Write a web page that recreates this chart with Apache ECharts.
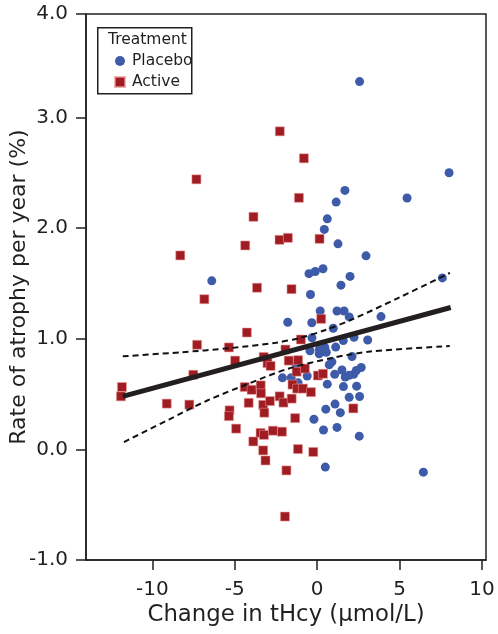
<!DOCTYPE html>
<html>
<head>
<meta charset="utf-8">
<script src="https://cdn.jsdelivr.net/npm/echarts@6/dist/echarts.min.js"></script>
<style>
html,body{margin:0;padding:0;background:#fff;}
#chart{width:498px;height:634px;}
</style>
</head>
<body>
<div id="chart"></div>
<script>
// ---- data ----
const placeboX = [2.57, 8.00, 1.68, 1.15, 5.45, 0.61, 0.43, 1.26, 2.96, -0.50, -0.12, 0.35, 1.99, 1.44, 7.59, -6.40,
  -0.41, 0.18, 1.20, 1.63, 1.94, 3.87, -1.79, -0.33, 0.97, -0.32, 1.58, 2.23, 3.06, -0.44, 0.13, 0.46, 1.12, 0.12,
  0.55, 2.11, 0.89, 0.73, -1.32, 1.50, 2.67, 2.37, 2.21, 1.06, -0.61, -2.11, -1.58, -1.16, 0.61, 1.70, 1.93, 1.59,
  2.39, 1.94, 2.57, 1.08, 0.52, 1.40, -0.20, 0.38, 1.20, 2.55, 0.49, 6.44];
const placeboY = [3.326, 2.502, 2.342, 2.236, 2.273, 2.085, 1.989, 1.859, 1.750, 1.589, 1.609, 1.634, 1.564, 1.485, 1.551, 1.524,
  1.401, 1.252, 1.252, 1.252, 1.198, 1.201, 1.150, 1.145, 1.096, 1.009, 0.984, 1.014, 0.989, 0.892, 0.903, 0.923, 0.925, 0.865,
  0.878, 0.840, 0.792, 0.765, 0.781, 0.718, 0.741, 0.713, 0.679, 0.679, 0.664, 0.647, 0.649, 0.602, 0.590, 0.655, 0.670, 0.568,
  0.572, 0.471, 0.478, 0.410, 0.364, 0.332, 0.273, 0.175, 0.199, 0.120, -0.160, -0.206];

const activeX = [-2.27, -0.81, -7.33, -1.11, -3.87, -4.37, -2.29, -1.78, -8.31, -3.65, -1.56, 0.14, -6.85, 0.24, -4.27, -7.29,
  -5.36, -0.99, -4.98, -3.25, -1.93, -1.73, -1.16, -3.02, -2.83, -7.52, -1.25, -0.75, 0.04, 0.35, -11.85, -11.91, -9.13, -7.76,
  -4.40, -3.98, -3.43, -3.41, -4.16, -3.28, -2.87, -3.21, -5.32, -5.36, -4.92, -3.44, -3.23, -2.69, -2.14, -3.88, -3.28, -3.14,
  -2.28, -2.05, -1.55, -1.50, -1.22, -0.87, -0.38, -1.34, 2.19, -1.17, -0.24, -1.87, -1.96];
const activeY = [2.876, 2.632, 2.442, 2.275, 2.103, 1.844, 1.895, 1.913, 1.754, 1.462, 1.449, 1.904, 1.358, 1.180, 1.057, 0.946,
  0.922, 0.994, 0.803, 0.836, 0.903, 0.803, 0.807, 0.780, 0.755, 0.675, 0.703, 0.731, 0.668, 0.684, 0.564, 0.480, 0.414, 0.405,
  0.564, 0.539, 0.579, 0.507, 0.421, 0.403, 0.437, 0.332, 0.353, 0.301, 0.188, 0.149, 0.131, 0.169, 0.160, 0.072, -0.009, -0.100,
  0.480, 0.423, 0.459, 0.586, 0.550, 0.550, 0.518, 0.283, 0.371, 0.003, -0.023, -0.190, -0.607];

const fitX = [-11.8, 8.1];
const fitY = [0.48, 1.283];
const upperX = [-11.8, -8.3, -5.36, -2.5, -1, 0.5, 2.19, 5, 8.05];
const upperY = [0.842, 0.878, 0.915, 0.965, 1.01, 1.08, 1.18, 1.375, 1.596];
const lowerX = [-11.73, -9, -6.7, -4.07, -1.76, 1, 3.22, 8.04];
const lowerY = [0.066, 0.27, 0.44, 0.60, 0.73, 0.83, 0.885, 0.935];

const xTickValues = [-10, -5, 0, 5, 10];
const yTickValues = [-1, 0, 1, 2, 3, 3.937];
const yTickLabels = ['-1.0', '0.0', '1.0', '2.0', '3.0', '4.0'];

const seriesNames = ['Placebo', 'Active'];
const legendTitle = 'Treatment';
const xTitle = 'Change in tHcy (µmol/L)';
const yTitle = 'Rate of atrophy per year (%)';

// ---- build ----
const zip = (a, b) => a.map((v, i) => [v, b[i]]);
const FONT = 'DejaVu Sans';
const INK = '#231f20';
const BLUE = '#3d5ba9';
const RED = '#9e1c22';

const chart = echarts.init(document.getElementById('chart'), null, {renderer: 'canvas'});
chart.setOption({
  animation: false,
  backgroundColor: '#fff',
  grid: {left: 86, right: 12, top: 14, bottom: 74, containLabel: false, outerBoundsMode: 'none',
    show: true, borderColor: INK, borderWidth: 1.5, backgroundColor: 'transparent'},
  xAxis: {
    type: 'value', min: -14.03, max: 10.24,
    name: xTitle, nameLocation: 'middle', nameGap: 44, nameMoveOverlap: false,
    nameTextStyle: {fontFamily: FONT, fontSize: 22.8, color: INK},
    axisLine: {show: true, onZero: false, lineStyle: {color: INK, width: 1.5}},
    axisTick: {show: true, inside: false, length: 10, customValues: xTickValues, lineStyle: {color: INK, width: 1.5}},
    axisLabel: {customValues: xTickValues, margin: 20, fontFamily: FONT, fontSize: 20, color: INK, showMinLabel: true, showMaxLabel: true},
    splitLine: {show: false}
  },
  yAxis: {
    type: 'value', min: -1, max: 3.937,
    name: yTitle, nameLocation: 'middle', nameGap: 56, nameRotate: 90, nameMoveOverlap: false,
    nameTextStyle: {fontFamily: FONT, fontSize: 22, color: INK},
    axisLine: {show: true, onZero: false, lineStyle: {color: INK, width: 1.5}},
    axisTick: {show: true, inside: false, length: 10, customValues: yTickValues, lineStyle: {color: INK, width: 1.5}},
    axisLabel: {customValues: yTickValues, margin: 18, fontFamily: FONT, fontSize: 20, color: INK,
      showMinLabel: true, showMaxLabel: true,
      formatter: (v) => {
        let best = 0;
        yTickValues.forEach((t, i) => { if (Math.abs(t - v) < Math.abs(yTickValues[best] - v)) best = i; });
        return yTickLabels[best];
      }},
    splitLine: {show: false}
  },
  legend: {
    orient: 'vertical', left: 114, top: 53, itemWidth: 10, itemHeight: 10, itemGap: 5, padding: 0, z: 20,
    textStyle: {fontFamily: FONT, fontSize: 15.5, color: INK, padding: [0, 0, 0, 2]},
    data: [{name: seriesNames[0], icon: 'circle'}, {name: seriesNames[1], icon: 'rect'}]
  },
  graphic: [
    {type: 'rect', left: 97, top: 27, shape: {width: 94, height: 66}, style: {fill: '#fff', stroke: INK, lineWidth: 1.5}, z: 5},
    {type: 'text', left: 108, top: 32, style: {text: legendTitle, font: '15.5px "DejaVu Sans"', fill: INK}, z: 6}
  ],
  series: [
    {name: seriesNames[0], type: 'scatter', symbol: 'circle', symbolSize: 9, data: zip(placeboX, placeboY),
      itemStyle: {color: BLUE, opacity: 1}, z: 2},
    {name: seriesNames[1], type: 'scatter', symbol: 'rect', symbolSize: 9, data: zip(activeX, activeY),
      itemStyle: {color: RED, opacity: 1, borderColor: 'rgba(235,150,150,0.7)', borderWidth: 0.8}, z: 2},
    {name: 'fit', type: 'line', data: zip(fitX, fitY), symbol: 'none', silent: true,
      lineStyle: {color: INK, width: 5}, z: 4},
    {name: 'upper', type: 'line', data: zip(upperX, upperY), symbol: 'none', smooth: 0.3, silent: true,
      lineStyle: {color: '#111', width: 2, type: [6, 4]}, z: 4},
    {name: 'lower', type: 'line', data: zip(lowerX, lowerY), symbol: 'none', smooth: 0.3, silent: true,
      lineStyle: {color: '#111', width: 2, type: [6, 4]}, z: 4}
  ]
});
</script>
</body>
</html>
